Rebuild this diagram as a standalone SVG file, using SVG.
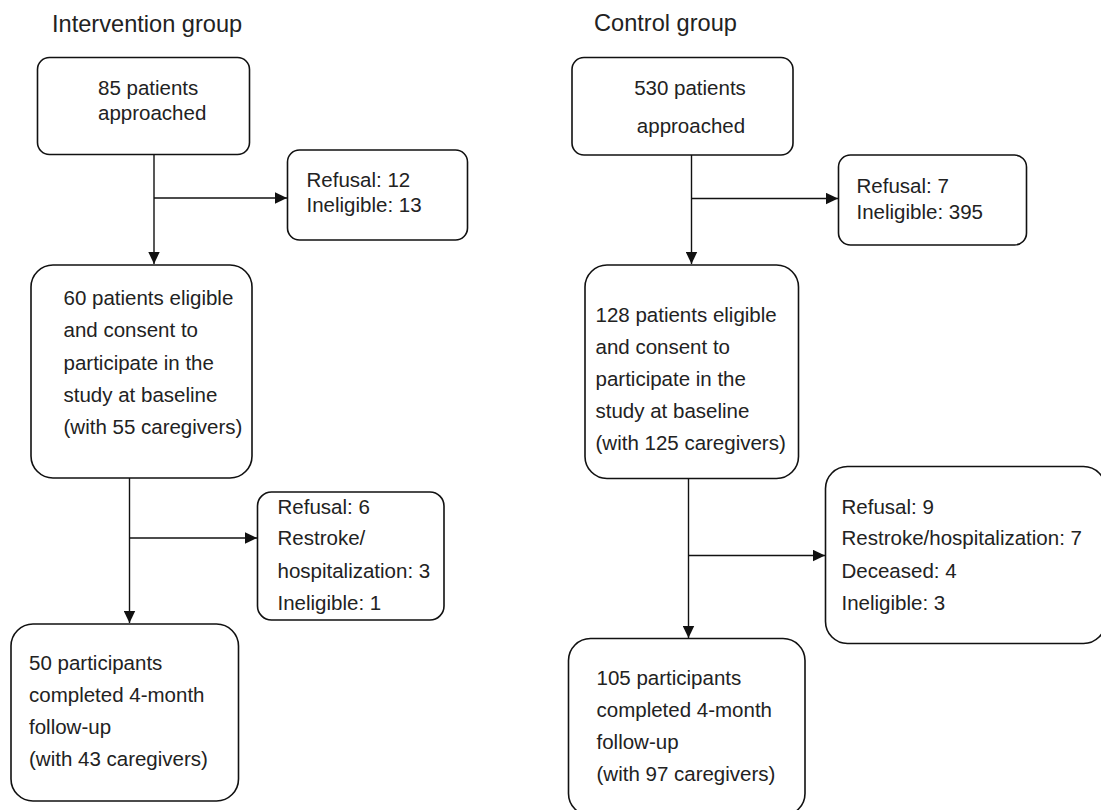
<svg xmlns="http://www.w3.org/2000/svg" width="1101" height="810" viewBox="0 0 1101 810">
<style>
  text { font-family: "Liberation Sans", Arial, sans-serif; font-size: 20.5px; fill: #222; }
  .hd { font-size: 23.6px; }
  .box { fill: #fff; stroke: #111; stroke-width: 1.6; }
  .ln { fill: none; stroke: #111; stroke-width: 1.4; }
</style>
<defs>
  <marker id="ah" viewBox="0 0 12 12" refX="12" refY="6" markerWidth="12" markerHeight="12" markerUnits="userSpaceOnUse" orient="auto">
    <path d="M0,0.3 L12,6 L0,11.7 Z" fill="#111"/>
  </marker>
</defs>
<rect width="1101" height="810" fill="#fff"/>
<text class="hd" x="52" y="32">Intervention group</text>
<text class="hd" x="594" y="31">Control group</text>

<g id="connectors">
  <path class="ln" d="M154,155 V264" marker-end="url(#ah)"/>
  <path class="ln" d="M154,198 H287" marker-end="url(#ah)"/>
  <path class="ln" d="M129.5,478 V623" marker-end="url(#ah)"/>
  <path class="ln" d="M129.5,538 H257" marker-end="url(#ah)"/>
  <path class="ln" d="M691.5,155 V264" marker-end="url(#ah)"/>
  <path class="ln" d="M691.5,198.5 H838" marker-end="url(#ah)"/>
  <path class="ln" d="M688.5,478 V638" marker-end="url(#ah)"/>
  <path class="ln" d="M688.5,555.5 H825" marker-end="url(#ah)"/>
</g>

<g id="i-approached">
  <rect class="box" x="37.5" y="57.5" width="212" height="97" rx="12"/>
  <text x="98" y="95">85 patients</text>
  <text x="98" y="119.5">approached</text>
</g>
<g id="i-excluded1">
  <rect class="box" x="287.5" y="150" width="180" height="90" rx="12"/>
  <text x="306.5" y="186.5">Refusal: 12</text>
  <text x="306.5" y="212">Ineligible: 13</text>
</g>
<g id="i-eligible">
  <rect class="box" x="31" y="265" width="221" height="213" rx="22"/>
  <text x="63.5" y="305">60 patients eligible</text>
  <text x="63.5" y="337">and consent to</text>
  <text x="63.5" y="369.5">participate in the</text>
  <text x="63.5" y="401.5">study at baseline</text>
  <text x="63.5" y="433.5">(with 55 caregivers)</text>
</g>
<g id="i-excluded2">
  <rect class="box" x="257.5" y="492" width="186.5" height="128" rx="14"/>
  <text x="277.5" y="513.5">Refusal: 6</text>
  <text x="277.5" y="545">Restroke/</text>
  <text x="277.5" y="577.5">hospitalization: 3</text>
  <text x="277.5" y="609.5">Ineligible: 1</text>
</g>
<g id="i-completed">
  <rect class="box" x="11" y="624" width="227.5" height="177" rx="22"/>
  <text x="29" y="670">50 participants</text>
  <text x="29" y="702">completed 4-month</text>
  <text x="29" y="734">follow-up</text>
  <text x="29" y="766">(with 43 caregivers)</text>
</g>

<g id="c-approached">
  <rect class="box" x="572" y="57.5" width="221" height="97.5" rx="12"/>
  <text x="690" y="95" text-anchor="middle">530 patients</text>
  <text x="691" y="132.5" text-anchor="middle">approached</text>
</g>
<g id="c-excluded1">
  <rect class="box" x="838.5" y="155" width="188" height="90" rx="12"/>
  <text x="856.5" y="193">Refusal: 7</text>
  <text x="856.5" y="218.5">Ineligible: 395</text>
</g>
<g id="c-eligible">
  <rect class="box" x="585" y="265" width="213.5" height="213.5" rx="22"/>
  <text x="595.5" y="321.5">128 patients eligible</text>
  <text x="595.5" y="354">and consent to</text>
  <text x="595.5" y="385.5">participate in the</text>
  <text x="595.5" y="417.5">study at baseline</text>
  <text x="595.5" y="449.5">(with 125 caregivers)</text>
</g>
<g id="c-excluded2">
  <rect class="box" x="825.5" y="466.5" width="280" height="177" rx="22"/>
  <text x="841.5" y="513.5">Refusal: 9</text>
  <text x="841.5" y="545">Restroke/hospitalization: 7</text>
  <text x="841.5" y="577.5">Deceased: 4</text>
  <text x="841.5" y="609.5">Ineligible: 3</text>
</g>
<g id="c-completed">
  <rect class="box" x="568.5" y="638.5" width="236.5" height="177" rx="22"/>
  <text x="596.5" y="685">105 participants</text>
  <text x="596.5" y="717">completed 4-month</text>
  <text x="596.5" y="749">follow-up</text>
  <text x="596.5" y="781">(with 97 caregivers)</text>
</g>
</svg>
